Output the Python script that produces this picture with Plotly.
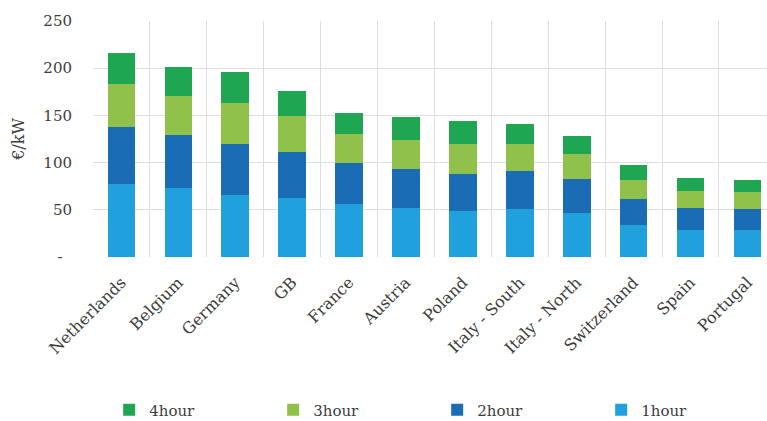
import plotly.graph_objects as go

# Regions along the x axis
regions = ["Netherlands", "Belgium", "Germany", "GB", "France", "Austria",
           "Poland", "Italy - South", "Italy - North", "Switzerland", "Spain", "Portugal"]

# Stacked components, €/kW
h1 = [77.3, 73.5, 65.4, 62.9, 56.1, 52.3, 48.4, 50.8, 46.6, 33.9, 29.0, 28.3]
h2 = [60.4, 55.7, 54.3, 48.7, 43.2, 40.9, 39.2, 40.0, 36.0, 27.5, 23.3, 22.2]
h3 = [45.3, 41.8, 43.1, 37.4, 31.4, 31.2, 31.8, 28.9, 26.9, 20.6, 18.0, 18.0]
h4 = [33.5, 30.7, 32.9, 26.5, 22.3, 23.9, 24.6, 20.9, 19.1, 15.5, 13.1, 13.5]

series = [("1hour", h1, "#21a0de"),
          ("2hour", h2, "#1a6db5"),
          ("3hour", h3, "#8fc14b"),
          ("4hour", h4, "#1fa653")]

y_ticks = [0, 50, 100, 150, 200, 250]
y_tick_text = ["-\u00a0\u00a0", "50", "100", "150", "200", "250"]

xpos = list(range(len(regions)))

fig = go.Figure()
for name, vals, col in series:
    fig.add_trace(go.Bar(x=xpos, y=vals, name=name, marker_color=col,
                         marker_line_width=0, width=0.487))

font_family = "DejaVu Serif"
grid = "#dedede"
text_col = "#3c3c3c"

fig.update_layout(
    width=767, height=421,
    margin=dict(l=93, r=0, t=21, b=164, pad=0, autoexpand=False),
    barmode="stack",
    plot_bgcolor="white", paper_bgcolor="white",
    font=dict(family=font_family, size=15, color=text_col),
    showlegend=True,
    legend=dict(orientation="h", traceorder="reversed",
                x=0.024, xanchor="left", y=-0.648, yanchor="middle",
                entrywidth=119, entrywidthmode="pixels",
                font=dict(family=font_family, size=15, color=text_col),
                itemwidth=30),
    xaxis=dict(type="linear", range=[-0.5, 11.345], automargin=False,
               tickmode="array", tickvals=xpos, ticktext=regions,
               tickangle=-45, showgrid=False, zeroline=False, showline=False,
               ticks="", tickfont=dict(size=16), ticklabelstandoff=12,
               minor=dict(tickvals=[i - 0.5 for i in range(len(regions) + 1)],
                          showgrid=True, gridcolor=grid, gridwidth=1, ticks="")),
    yaxis=dict(range=[0, 250], tickmode="array", tickvals=y_ticks, automargin=False,
               ticktext=y_tick_text, showgrid=True, gridcolor=grid, gridwidth=1,
               zeroline=False, showline=False, ticks="", ticklabelstandoff=20,
               tickfont=dict(size=15),
               title=dict(text="€/kW", font=dict(size=16), standoff=14)),
)

fig.write_html("out.html")
